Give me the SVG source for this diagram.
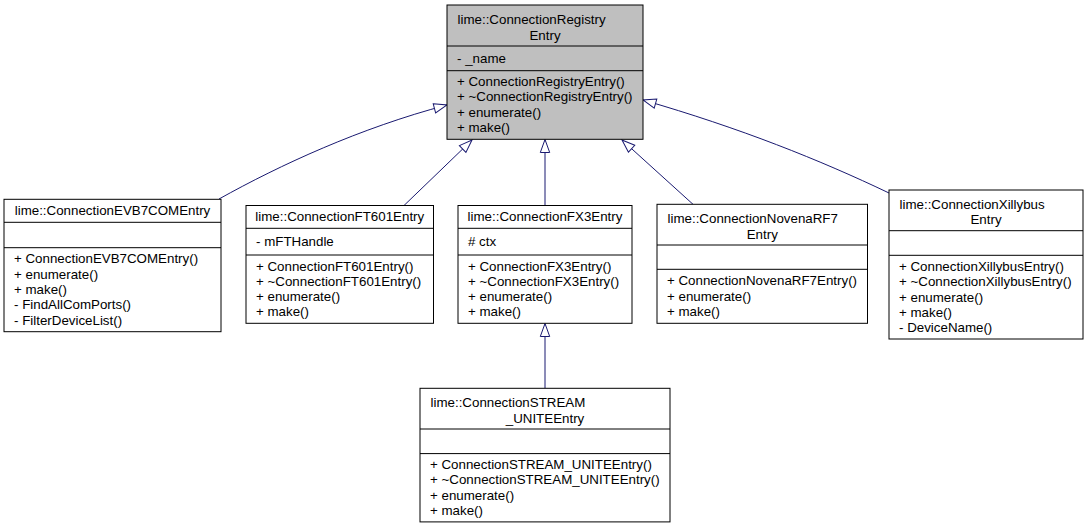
<svg xmlns="http://www.w3.org/2000/svg" width="1089" height="529" viewBox="0 0 1089 529">
<style>
text{font-family:"Liberation Sans",Arial,Helvetica,sans-serif;font-size:13.33px;fill:#000}
.t{text-anchor:middle}
.box{fill:#fff;stroke:#000;stroke-width:1}
.main{fill:#bfbfbf;stroke:#000;stroke-width:1}
.sep{stroke:#000;stroke-width:1}
.edge{fill:none;stroke:#191970;stroke-width:1}
</style>
<defs>
<marker id="tri" viewBox="0 0 15 12" refX="14" refY="6" markerWidth="15" markerHeight="12" orient="auto" markerUnits="userSpaceOnUse">
<path d="M1,1.3 L14,6 L1,10.7 z" fill="#fff" stroke="#191970" stroke-width="1"/>
</marker>
</defs>
<rect width="1089" height="529" fill="#fff"/>
<g id="connectors">
<path class="edge" d="M219,199 C280,165 360,128 447,105" marker-end="url(#tri)"/>
<path class="edge" d="M404,205.5 L472,140" marker-end="url(#tri)"/>
<path class="edge" d="M545,205.5 L545,139.5" marker-end="url(#tri)"/>
<path class="edge" d="M693,204.3 L622,140" marker-end="url(#tri)"/>
<path class="edge" d="M889,193 C820,160 740,128 643,100" marker-end="url(#tri)"/>
<path class="edge" d="M545,388.3 L545,323.5" marker-end="url(#tri)"/>
</g>
<g id="ConnectionRegistryEntry">
<rect class="main" x="447" y="5" width="196" height="134.3"/>
<line class="sep" x1="447" y1="46" x2="643" y2="46"/>
<line class="sep" x1="447" y1="70.7" x2="643" y2="70.7"/>
<text x="457.5" y="24.2">lime::ConnectionRegistry</text>
<text class="t" x="545" y="39.5">Entry</text>
<text x="457" y="63">- _name</text>
<text x="457" y="86.1">+ ConnectionRegistryEntry()</text>
<text x="457" y="101.4">+ ~ConnectionRegistryEntry()</text>
<text x="457" y="116.7">+ enumerate()</text>
<text x="457" y="132">+ make()</text>
</g>
<g id="ConnectionEVB7COMEntry">
<rect class="box" x="4" y="199.3" width="217" height="132.4"/>
<line class="sep" x1="4" y1="222.3" x2="221" y2="222.3"/>
<line class="sep" x1="4" y1="247.7" x2="221" y2="247.7"/>
<text class="t" x="112.5" y="215.1">lime::ConnectionEVB7COMEntry</text>
<text x="14" y="263.4">+ ConnectionEVB7COMEntry()</text>
<text x="14" y="278.7">+ enumerate()</text>
<text x="14" y="294">+ make()</text>
<text x="14" y="309.3">- FindAllComPorts()</text>
<text x="14" y="324.6">- FilterDeviceList()</text>
</g>
<g id="ConnectionFT601Entry">
<rect class="box" x="246" y="205.5" width="187.5" height="117.8"/>
<line class="sep" x1="246" y1="228.3" x2="433.5" y2="228.3"/>
<line class="sep" x1="246" y1="255" x2="433.5" y2="255"/>
<text class="t" x="339.75" y="221.2">lime::ConnectionFT601Entry</text>
<text x="256" y="246">- mFTHandle</text>
<text x="256" y="270.5">+ ConnectionFT601Entry()</text>
<text x="256" y="285.8">+ ~ConnectionFT601Entry()</text>
<text x="256" y="301.1">+ enumerate()</text>
<text x="256" y="316.4">+ make()</text>
</g>
<g id="ConnectionFX3Entry">
<rect class="box" x="458" y="205.5" width="174" height="117.8"/>
<line class="sep" x1="458" y1="228.3" x2="632" y2="228.3"/>
<line class="sep" x1="458" y1="255" x2="632" y2="255"/>
<text class="t" x="545" y="221.2">lime::ConnectionFX3Entry</text>
<text x="468" y="246"># ctx</text>
<text x="468" y="270.5">+ ConnectionFX3Entry()</text>
<text x="468" y="285.8">+ ~ConnectionFX3Entry()</text>
<text x="468" y="301.1">+ enumerate()</text>
<text x="468" y="316.4">+ make()</text>
</g>
<g id="ConnectionNovenaRF7Entry">
<rect class="box" x="657" y="204.3" width="210.5" height="119"/>
<line class="sep" x1="657" y1="245" x2="867.5" y2="245"/>
<line class="sep" x1="657" y1="269.3" x2="867.5" y2="269.3"/>
<text x="667.5" y="223.3">lime::ConnectionNovenaRF7</text>
<text class="t" x="762.25" y="238.6">Entry</text>
<text x="667" y="285.3">+ ConnectionNovenaRF7Entry()</text>
<text x="667" y="300.6">+ enumerate()</text>
<text x="667" y="315.9">+ make()</text>
</g>
<g id="ConnectionXillybusEntry">
<rect class="box" x="889" y="190" width="194" height="149"/>
<line class="sep" x1="889" y1="230.7" x2="1083" y2="230.7"/>
<line class="sep" x1="889" y1="255.3" x2="1083" y2="255.3"/>
<text x="899.5" y="209">lime::ConnectionXillybus</text>
<text class="t" x="986" y="224.3">Entry</text>
<text x="899" y="270.9">+ ConnectionXillybusEntry()</text>
<text x="899" y="286.2">+ ~ConnectionXillybusEntry()</text>
<text x="899" y="301.5">+ enumerate()</text>
<text x="899" y="316.8">+ make()</text>
<text x="899" y="332">- DeviceName()</text>
</g>
<g id="ConnectionSTREAM_UNITEEntry">
<rect class="box" x="420" y="388.3" width="250" height="133.6"/>
<line class="sep" x1="420" y1="429" x2="670" y2="429"/>
<line class="sep" x1="420" y1="453.6" x2="670" y2="453.6"/>
<text x="430.5" y="407.3">lime::ConnectionSTREAM</text>
<text class="t" x="545" y="422.6">_UNITEEntry</text>
<text x="430" y="469.1">+ ConnectionSTREAM_UNITEEntry()</text>
<text x="430" y="484.4">+ ~ConnectionSTREAM_UNITEEntry()</text>
<text x="430" y="499.7">+ enumerate()</text>
<text x="430" y="515">+ make()</text>
</g>
</svg>
